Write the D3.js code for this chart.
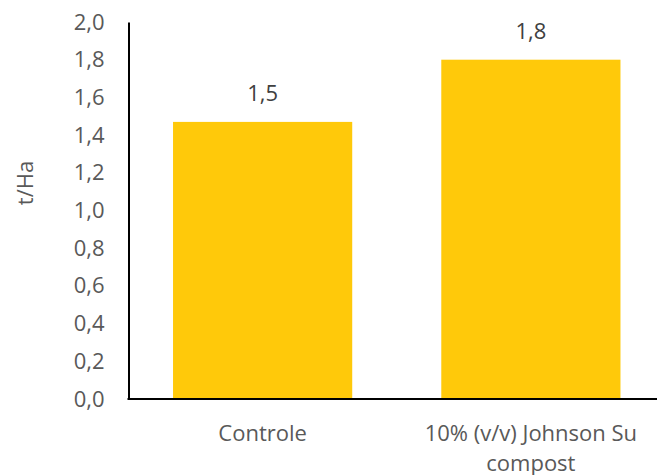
<!DOCTYPE html>
<html>
<head>
<meta charset="utf-8">
<script src="https://cdn.jsdelivr.net/npm/d3@7"></script>
<style>
  body { margin: 0; background: #fff; }
  svg { display: block; font-family: "Open Sans", sans-serif; }
</style>
</head>
<body>
<script>
// chart data
const categories = ["Controle", "10% (v/v) Johnson Su compost"];
const values = [1.47, 1.80];
const valueLabels = ["1,5", "1,8"];
const yTicks = [0, 0.2, 0.4, 0.6, 0.8, 1.0, 1.2, 1.4, 1.6, 1.8, 2.0];
const yTitle = "t/Ha";

const width = 657, height = 475;
const margin = {top: 22, right: -8, bottom: 76, left: 128.5};
const fontSize = "22px";
const fmt = d => d3.format(".1f")(d).replace(".", ",");

const svg = d3.select("body").append("svg")
    .attr("width", width)
    .attr("height", height);

const x = d3.scaleBand()
    .domain(categories)
    .range([margin.left, width - margin.right])
    .paddingInner(0.332)
    .paddingOuter(0.166);

const y = d3.scaleLinear()
    .domain([0, 2])
    .range([height - margin.bottom, margin.top]);

// bars
svg.append("g")
  .selectAll("rect")
  .data(values)
  .join("rect")
    .attr("x", (d, i) => x(categories[i]))
    .attr("y", d => y(d))
    .attr("width", x.bandwidth())
    .attr("height", d => y(0) - y(d))
    .attr("fill", "#FFC90A");

// value labels
svg.append("g")
  .selectAll("text")
  .data(values)
  .join("text")
    .attr("x", (d, i) => x(categories[i]) + x.bandwidth() / 2)
    .attr("y", d => y(d) - 21)
    .attr("text-anchor", "middle")
    .attr("fill", "#404040")
    .style("font-size", fontSize)
    .text((d, i) => valueLabels[i]);

// y axis
const yAxis = svg.append("g")
    .attr("transform", `translate(${margin.left},0)`)
    .call(d3.axisLeft(y).tickValues(yTicks).tickFormat(fmt).tickSize(0).tickPadding(24));
yAxis.select(".domain").attr("stroke", "#000").attr("stroke-width", 2);
yAxis.selectAll("text")
    .attr("fill", "#595959")
    .style("font-family", "'Open Sans', sans-serif")
    .style("font-size", fontSize);

// x axis line
svg.append("line")
    .attr("x1", margin.left - 1)
    .attr("x2", width)
    .attr("y1", y(0))
    .attr("y2", y(0))
    .attr("stroke", "#000")
    .attr("stroke-width", 2);

// x category labels (wrapped)
const wrapped = [["Controle"], ["10% (v/v) Johnson Su", "compost"]];
svg.append("g")
  .selectAll("text")
  .data(categories)
  .join("text")
    .attr("x", d => x(d) + x.bandwidth() / 2)
    .attr("y", 441)
    .attr("text-anchor", "middle")
    .attr("fill", "#595959")
    .style("font-size", fontSize)
  .selectAll("tspan")
  .data((d, i) => wrapped[i])
  .join("tspan")
    .attr("x", function() { return this.parentNode.getAttribute("x"); })
    .attr("dy", (d, i) => i === 0 ? 0 : 30)
    .text(d => d);

// y title
svg.append("text")
    .attr("transform", "translate(33,183) rotate(-90)")
    .attr("text-anchor", "middle")
    .attr("fill", "#595959")
    .style("font-size", fontSize)
    .text(yTitle);
</script>
</body>
</html>
